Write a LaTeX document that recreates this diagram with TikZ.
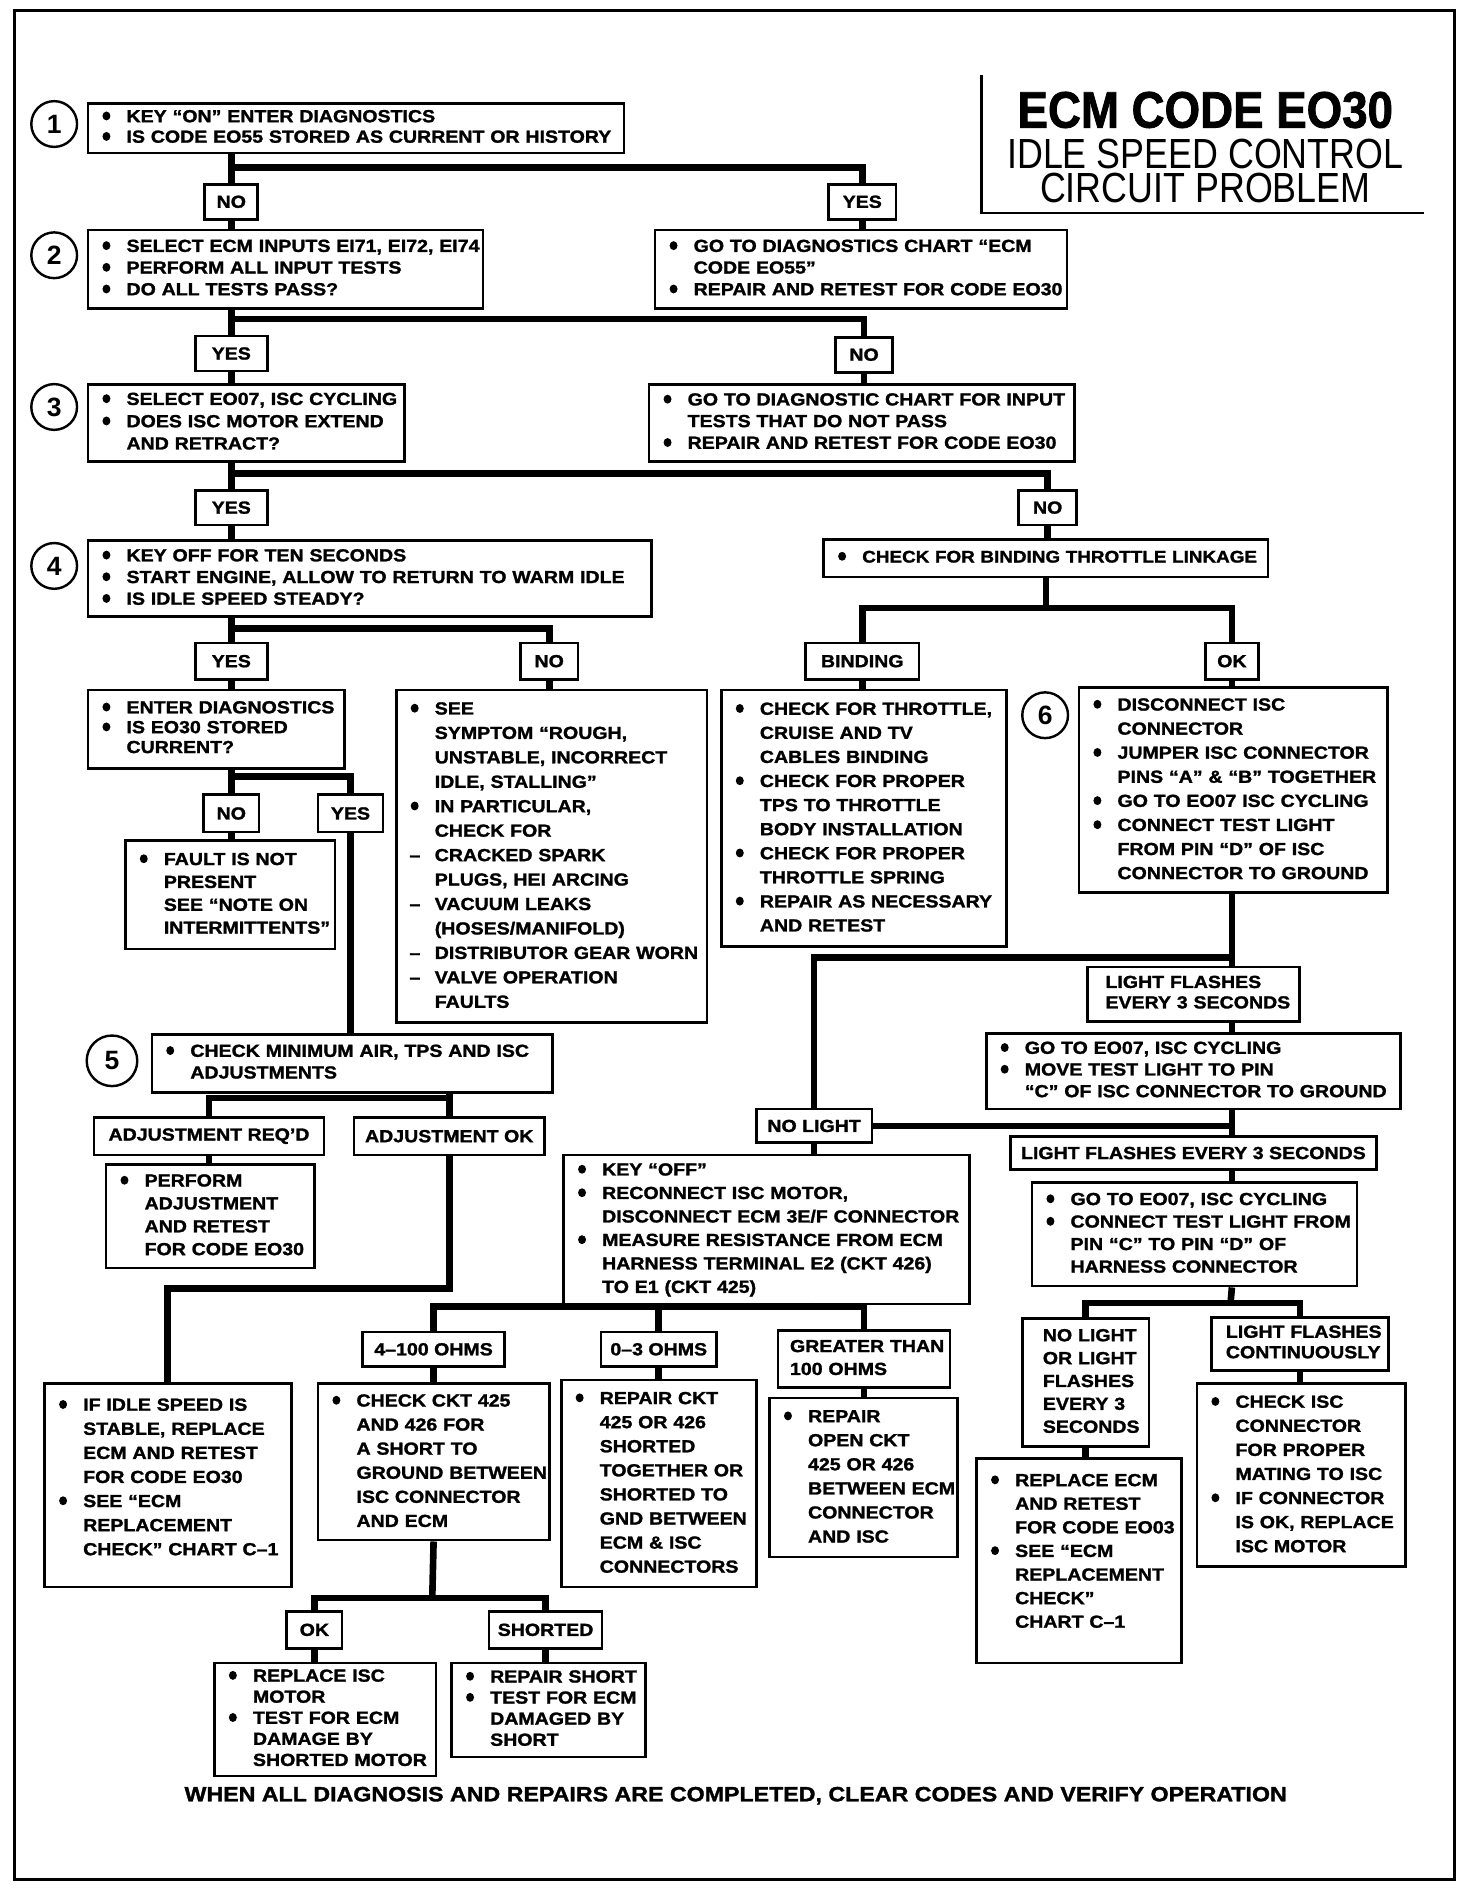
\documentclass[tikz,border=0pt]{standalone}
\usepackage{fontspec}
\setmainfont{Liberation Sans}[FakeStretch=1.12,Ligatures=ResetAll,BoldFeatures={FakeBold=1.5}]
\newfontfamily\headfont{Liberation Sans}[FakeStretch=0.89,BoldFeatures={FakeBold=1.5}]
\newfontfamily\subfont{Liberation Sans}[FakeStretch=0.85]
\newfontfamily\numfont{Liberation Sans}
\newcommand\bul{\makebox[24pt][l]{\hspace{4pt}\tikz[baseline=0pt,x=1pt,y=1pt]\fill (3.3,5.2) ellipse (3.3 and 3.7);}}
\newcommand\dsh{\makebox[24pt][l]{\hspace{3pt}–}}
\newcommand\ind{\hspace*{24pt}}
\newcommand\lns[1]{\begin{tabular}{@{}l@{}}#1\end{tabular}}

\begin{document}
\begin{tikzpicture}[x=1pt,y=-1pt,
    qbox/.style={draw,line width=2.2pt,anchor=north west,inner xsep=8pt,inner ysep=0pt,align=left,font=\bfseries\fontsize{14.5}{18}\selectfont},
    lsp/.style={font=\bfseries\fontsize{14.5}{#1}\selectfont},
    tag/.style={draw,line width=2.2pt,anchor=north west,inner sep=0pt,align=center,font=\bfseries\fontsize{14.5}{17}\selectfont},
    num/.style={circle,draw,line width=2pt,minimum size=38pt,inner sep=0pt,font=\numfont\bfseries\fontsize{22}{22}\selectfont},
    link/.style={line width=5.5pt}
  ]
  \useasboundingbox (0,0) rectangle (1223,1568);
  \draw[line width=2.4pt] (12,9) rectangle (1208,1561);

  % title
  \draw[line width=2pt] (815,62) |- (1183,177);
  \node[anchor=base,inner sep=0pt,font=\headfont\bfseries\fontsize{42.6}{42}\selectfont] (ttl) at (1001,106) {ECM CODE EO30};
  \node[anchor=base,inner sep=0pt,font=\subfont\fontsize{35}{35}\selectfont] (st1) at (1001,140) {IDLE SPEED CONTROL};
  \node[anchor=base,inner sep=0pt,font=\subfont\fontsize{35}{35}\selectfont] (st2) at (1001,168) {CIRCUIT PROBLEM};

  % step numbers
  \node[num] (c1) at (45,103) {1};
  \node[num] (c2) at (45,212) {2};
  \node[num] (c3) at (45,338) {3};
  \node[num] (c4) at (45,470) {4};
  \node[num,minimum size=42pt] (c5) at (93,881) {5};
  \node[num] (c6) at (868,594) {6};

  % main column
  \node[qbox,lsp=17,text width=429pt,minimum height=41pt] (b1) at (72,85) {\lns{\bul KEY “ON” ENTER DIAGNOSTICS\\ \bul IS CODE EO55 STORED AS CURRENT OR HISTORY}};
  \node[tag,minimum width=44pt,minimum height=29pt] (no1) at (169,152) {NO};
  \node[tag,minimum width=56pt,minimum height=29pt] (yes1) at (687,152) {YES};
  \node[qbox,text width=312pt,minimum height=65pt] (b2) at (72,190) {\lns{\bul SELECT ECM INPUTS EI71, EI72, EI74\\ \bul PERFORM ALL INPUT TESTS\\ \bul DO ALL TESTS PASS?}};
  \node[qbox,text width=326pt,minimum height=65pt] (g55) at (543,190) {\lns{\bul GO TO DIAGNOSTICS CHART “ECM\\ \ind CODE EO55”\\ \bul REPAIR AND RETEST FOR CODE EO30}};
  \node[tag,minimum width=60pt,minimum height=29pt] (yes2) at (161,278) {YES};
  \node[tag,minimum width=47pt,minimum height=29pt] (no2) at (693,279) {NO};
  \node[qbox,lsp=18.5,text width=247pt,minimum height=64pt] (b3) at (72,318) {\lns{\bul SELECT EO07, ISC CYCLING\\ \bul DOES ISC MOTOR EXTEND\\ \ind AND RETRACT?}};
  \node[qbox,text width=337pt,minimum height=64pt] (gin) at (538,318) {\lns{\bul GO TO DIAGNOSTIC CHART FOR INPUT\\ \ind TESTS THAT DO NOT PASS\\ \bul REPAIR AND RETEST FOR CODE EO30}};
  \node[tag,minimum width=60pt,minimum height=29pt] (yes3) at (161,406) {YES};
  \node[tag,minimum width=48pt,minimum height=29pt] (no3) at (845,406) {NO};
  \node[qbox,text width=452pt,minimum height=63pt] (b4) at (72,448) {\lns{\bul KEY OFF FOR TEN SECONDS\\ \bul START ENGINE, ALLOW TO RETURN TO WARM IDLE\\ \bul IS IDLE SPEED STEADY?}};
  \node[qbox,font=\bfseries\fontsize{14}{18}\selectfont,text width=353pt,minimum height=31pt] (bind) at (683,447) {\lns{\bul CHECK FOR BINDING THROTTLE LINKAGE}};
  \node[tag,minimum width=60pt,minimum height=30pt] (yes4) at (161,533) {YES};
  \node[tag,minimum width=48pt,minimum height=30pt] (no4) at (431,533) {NO};
  \node[qbox,lsp=16.5,text width=197pt,minimum height=65pt] (ent) at (72,572) {\lns{\bul ENTER DIAGNOSTICS\\ \bul IS EO30 STORED\\ \ind CURRENT?}};
  \node[qbox,lsp=20.3,text width=242pt,minimum height=276pt] (see) at (328,572) {\lns{\bul SEE\\ \ind SYMPTOM “ROUGH,\\ \ind UNSTABLE, INCORRECT\\ \ind IDLE, STALLING”\\ \bul IN PARTICULAR,\\ \ind CHECK FOR\\ \dsh CRACKED SPARK\\ \ind PLUGS, HEI ARCING\\ \dsh VACUUM LEAKS\\ \ind (HOSES/MANIFOLD)\\ \dsh DISTRIBUTOR GEAR WORN\\ \dsh VALVE OPERATION\\ \ind FAULTS}};
  \node[tag,minimum width=46pt,minimum height=31pt] (no5) at (168,659) {NO};
  \node[tag,minimum width=54pt,minimum height=31pt] (yes5) at (263,659) {YES};
  \node[qbox,lsp=19,text width=158pt,minimum height=90pt] (flt) at (103,697) {\lns{\bul FAULT IS NOT\\ \ind PRESENT\\ \ind SEE “NOTE ON\\ \ind INTERMITTENTS”}};
  \node[qbox,text width=317pt,minimum height=48pt] (b5) at (125,858) {\lns{\bul CHECK MINIMUM AIR, TPS AND ISC\\ \ind ADJUSTMENTS}};
  \node[tag,minimum width=191pt,minimum height=31pt] (adjr) at (77,927) {ADJUSTMENT REQ'D};
  \node[tag,minimum width=158pt,minimum height=31pt] (adjo) at (293,927) {ADJUSTMENT OK};
  \node[qbox,lsp=19,text width=157pt,minimum height=86pt] (perf) at (87,966) {\lns{\bul PERFORM\\ \ind ADJUSTMENT\\ \ind AND RETEST\\ \ind FOR CODE EO30}};
  \node[qbox,lsp=20,text width=189pt,minimum height=169pt] (idle) at (36,1148) {\lns{\bul IF IDLE SPEED IS\\ \ind STABLE, REPLACE\\ \ind ECM AND RETEST\\ \ind FOR CODE EO30\\ \bul SEE “ECM\\ \ind REPLACEMENT\\ \ind CHECK” CHART C–1\\[12pt]}};

  % throttle branch
  \node[tag,minimum width=94pt,minimum height=30pt] (bnd) at (668,533) {BINDING};
  \node[tag,minimum width=44pt,minimum height=30pt] (ok6) at (1000,533) {OK};
  \node[qbox,lsp=20,text width=221pt,minimum height=213pt] (bchk) at (598,572) {\lns{\bul CHECK FOR THROTTLE,\\ \ind CRUISE AND TV\\ \ind CABLES BINDING\\ \bul CHECK FOR PROPER\\ \ind TPS TO THROTTLE\\ \ind BODY INSTALLATION\\ \bul CHECK FOR PROPER\\ \ind THROTTLE SPRING\\ \bul REPAIR AS NECESSARY\\ \ind AND RETEST}};
  \node[qbox,lsp=20,text width=240pt,minimum height=170pt] (b6) at (895,570) {\lns{\bul DISCONNECT ISC\\ \ind CONNECTOR\\ \bul JUMPER ISC CONNECTOR\\ \ind PINS “A” \& “B” TOGETHER\\ \bul GO TO EO07 ISC CYCLING\\ \bul CONNECT TEST LIGHT\\ \ind FROM PIN “D” OF ISC\\ \ind CONNECTOR TO GROUND}};
  \node[qbox,lsp=17,inner xsep=15pt,text width=146pt,minimum height=45pt] (lf1) at (902,802) {\lns{LIGHT FLASHES\\ EVERY 3 SECONDS}};
  \node[qbox,text width=328pt,minimum height=63pt] (go1) at (818,857) {\lns{\bul GO TO EO07, ISC CYCLING\\ \bul MOVE TEST LIGHT TO PIN\\ \ind “C” OF ISC CONNECTOR TO GROUND}};
  \node[tag,minimum width=96pt,minimum height=28pt] (nol) at (627,920) {NO LIGHT};
  \node[tag,minimum width=304pt,minimum height=27pt] (lf2) at (838,943) {LIGHT FLASHES EVERY 3 SECONDS};
  \node[qbox,lsp=19.5,text width=321pt,minimum height=124pt] (koff) at (467,958) {\lns{\bul KEY “OFF”\\ \bul RECONNECT ISC MOTOR,\\ \ind DISCONNECT ECM 3E/F CONNECTOR\\ \bul MEASURE RESISTANCE FROM ECM\\ \ind HARNESS TERMINAL E2 (CKT 426)\\ \ind TO E1 (CKT 425)}};
  \node[qbox,lsp=18.7,text width=254pt,minimum height=86pt] (go2) at (856,981) {\lns{\bul GO TO EO07, ISC CYCLING\\ \bul CONNECT TEST LIGHT FROM\\ \ind PIN “C” TO PIN “D” OF\\ \ind HARNESS CONNECTOR}};

  % resistance checks
  \node[tag,minimum width=118pt,minimum height=29pt] (ohm4) at (300,1105) {4–100 OHMS};
  \node[tag,minimum width=96pt,minimum height=29pt] (ohm0) at (498,1105) {0–3 OHMS};
  \node[qbox,lsp=19,inner xsep=10pt,text width=123pt,minimum height=47pt] (ohmg) at (645,1104) {\lns{GREATER THAN\\ 100 OHMS}};
  \node[qbox,lsp=20,text width=176pt,minimum height=130pt] (cckt) at (263,1148) {\lns{\bul CHECK CKT 425\\ \ind AND 426 FOR\\ \ind A SHORT TO\\ \ind GROUND BETWEEN\\ \ind ISC CONNECTOR\\ \ind AND ECM}};
  \node[qbox,lsp=20,text width=146pt,minimum height=172pt] (rckt) at (465,1145) {\lns{\bul REPAIR CKT\\ \ind 425 OR 426\\ \ind SHORTED\\ \ind TOGETHER OR\\ \ind SHORTED TO\\ \ind GND BETWEEN\\ \ind ECM \& ISC\\ \ind CONNECTORS}};
  \node[qbox,lsp=20,text width=140pt,minimum height=132pt] (ropen) at (638,1160) {\lns{\bul REPAIR\\ \ind OPEN CKT\\ \ind 425 OR 426\\ \ind BETWEEN ECM\\ \ind CONNECTOR\\ \ind AND ISC}};
  \node[tag,minimum width=46pt,minimum height=31pt] (ok7) at (237,1337) {OK};
  \node[tag,minimum width=94pt,minimum height=31pt] (shrt) at (405,1337) {SHORTED};
  \node[qbox,lsp=17.5,text width=168pt,minimum height=94pt] (risc) at (177,1380) {\lns{\bul REPLACE ISC\\ \ind MOTOR\\ \bul TEST FOR ECM\\ \ind DAMAGE BY\\ \ind SHORTED MOTOR}};
  \node[qbox,lsp=17.5,text width=145pt,minimum height=78pt] (rsh) at (374,1380) {\lns{\bul REPAIR SHORT\\ \bul TEST FOR ECM\\ \ind DAMAGED BY\\ \ind SHORT}};

  % pin C to D checks
  \node[qbox,lsp=19,inner xsep=17pt,text width=71pt,minimum height=106pt] (nlf) at (848,1094) {\lns{NO LIGHT\\ OR LIGHT\\ FLASHES\\ EVERY 3\\ SECONDS}};
  \node[qbox,lsp=17,inner xsep=12pt,text width=123pt,minimum height=44pt] (lfc) at (1005,1093) {\lns{LIGHT FLASHES\\ CONTINUOUSLY}};
  \node[qbox,lsp=19.6,text width=154pt,minimum height=170pt] (recm) at (810,1210) {\lns{\bul REPLACE ECM\\ \ind AND RETEST\\ \ind FOR CODE EO03\\ \bul SEE “ECM\\ \ind REPLACEMENT\\ \ind CHECK”\\ \ind CHART C–1\\[14pt]}};
  \node[qbox,lsp=20,text width=157pt,minimum height=152pt] (cisc) at (993,1148) {\lns{\bul CHECK ISC\\ \ind CONNECTOR\\ \ind FOR PROPER\\ \ind MATING TO ISC\\ \bul IF CONNECTOR\\ \ind IS OK, REPLACE\\ \ind ISC MOTOR}};

  \node[anchor=base,font=\bfseries\fontsize{17.2}{18}\selectfont] (foot) at (611,1496) {WHEN ALL DIAGNOSIS AND REPAIRS ARE COMPLETED, CLEAR CODES AND VERIFY OPERATION};

  % connectors, left side
  \coordinate (j1) at (191,139);
  \coordinate (j2) at (191,265);
  \coordinate (j3) at (191,393);
  \coordinate (j4) at (191,522);
  \coordinate (j5) at (191,645);
  \coordinate (j6) at (372,912);
  \coordinate (k6) at (139,1070);
  \draw[link] (b1.south -| no1) -- (no1.north);
  \draw[link] (j1) -| (yes1.north);
  \draw[link] (no1.south) -- (b2.north -| no1);
  \draw[link] (yes1.south) -- (g55.north -| yes1);
  \draw[link] (b2.south -| yes2) -- (yes2.north);
  \draw[link] (j2) -| (no2.north);
  \draw[link] (yes2.south) -- (b3.north -| yes2);
  \draw[link] (no2.south) -- (gin.north -| no2);
  \draw[link] (b3.south -| yes3) -- (yes3.north);
  \draw[link] (j3) -| (no3.north);
  \draw[link] (yes3.south) -- (b4.north -| yes3);
  \draw[link] (no3.south) -- (bind.north -| no3);
  \draw[link] (b4.south -| yes4) -- (yes4.north);
  \draw[link] (j4) -| (no4.north);
  \draw[link] (yes4.south) -- (ent.north -| yes4);
  \draw[link] (no4.south) -- (see.north -| no4);
  \draw[link] (ent.south -| no5) -- (no5.north);
  \draw[link] (j5) -| (yes5.north);
  \draw[link] (no5.south) -- (flt.north -| no5);
  \draw[link] (yes5.south) -- (b5.north -| yes5);
  \draw[link] (b5.south -| adjo) -- (adjo.north);
  \draw[link] (j6) -| (adjr.north);
  \draw[link] (adjr.south) -- (perf.north -| adjr);
  \draw[link] (adjo.south) |- (k6) -- (idle.north -| k6);

  % connectors, right side
  \coordinate (j7) at (868,505);
  \coordinate (j8) at (1022,795);
  \coordinate (j9) at (1022,1082);
  \coordinate (j10) at (675,1085);
  \coordinate (j11) at (359,1327);
  \draw[link] (bind.south) -- (bind.south |- j7);
  \draw[link] (bnd.north) |- (j7) -| (ok6.north);
  \draw[link] (bnd.south) -- (bchk.north -| bnd);
  \draw[link] (ok6.south) -- (b6.north -| ok6);
  \draw[link] (b6.south -| ok6) -- (lf1.north -| ok6);
  \draw[link] (j8) -| (nol.north);
  \draw[link] (lf1.south -| ok6) -- (go1.north -| ok6);
  \draw[link] (go1.south -| ok6) -- (lf2.north -| ok6);
  \draw[link] (nol.east) -- (nol.east -| ok6);
  \draw[link] (lf2.south -| ok6) -- (go2.north -| ok6);
  \draw[link] (go2.south -| ok6) -- (j9);
  \draw[link] (nlf.north) |- (j9) -| (lfc.north);
  \draw[link] (nlf.south) -- (recm.north -| nlf);
  \draw[link] (lfc.south) -- (cisc.north -| lfc);
  \draw[link] (nol.south) -- (koff.north -| nol);
  \draw[link] (koff.south -| nol) -- (j10);
  \draw[link] (ohm4.north) |- (j10) -| (ohmg.north);
  \draw[link] (ohm0.north) -- (ohm0.north |- j10);
  \draw[link] (ohm4.south) -- (cckt.north -| ohm4);
  \draw[link] (ohm0.south) -- (rckt.north -| ohm0);
  \draw[link] (ohmg.south) -- (ropen.north -| ohmg);
  \draw[link] (cckt.south -| ohm4) -- (j11);
  \draw[link] (ok7.north) |- (j11) -| (shrt.north);
  \draw[link] (ok7.south) -- (risc.north -| ok7);
  \draw[link] (shrt.south) -- (rsh.north -| shrt);
\end{tikzpicture}
\end{document}
